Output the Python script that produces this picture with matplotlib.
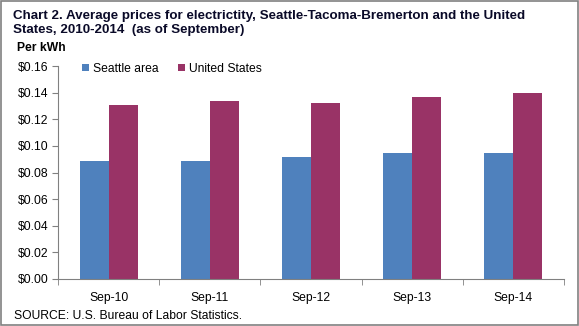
import numpy as np
import matplotlib
matplotlib.use("Agg")
import matplotlib.pyplot as plt
from matplotlib.patches import Rectangle

categories = ["Sep-10", "Sep-11", "Sep-12", "Sep-13", "Sep-14"]
seattle = [0.089, 0.089, 0.092, 0.095, 0.095]
united_states = [0.131, 0.134, 0.132, 0.137, 0.140]
y_ticks = [0.00, 0.02, 0.04, 0.06, 0.08, 0.10, 0.12, 0.14, 0.16]

plt.rcParams["font.family"] = ["Liberation Sans", "DejaVu Sans"]

fig = plt.figure(figsize=(5.79, 3.26), dpi=100)
ax = fig.add_axes([58 / 579, 47 / 326, 506 / 579, 213 / 326])

x = np.arange(len(categories))
w = 0.287
ax.bar(x - w / 2, seattle, width=w, color="#4F81BD", label="Seattle area")
ax.bar(x + w / 2, united_states, width=w, color="#993366", label="United States")

ax.set_xlim(-0.5, len(categories) - 0.5)
ax.set_ylim(0, 0.16)
ax.set_yticks(y_ticks)
ax.set_yticklabels([f"${v:.2f}" for v in y_ticks], fontsize=8.7)
ax.set_xticks(x)
ax.set_xticklabels(categories, fontsize=8.7)
ax.set_xticks(np.arange(-0.5, len(categories)), minor=True)
ax.tick_params(axis="x", which="major", length=0, pad=9)
ax.tick_params(axis="x", which="minor", length=4, color="#808080")
ax.tick_params(axis="y", length=4, color="#808080", pad=3)

for s in ["top", "right"]:
    ax.spines[s].set_visible(False)
for s in ["left", "bottom"]:
    ax.spines[s].set_color("#808080")

ax.legend(loc="center left", bbox_to_anchor=(0.038, 1 - 3 / 213), ncol=2, frameon=False,
          fontsize=8.7, handlelength=0.55, handleheight=0.55, handletextpad=0.35,
          columnspacing=1.6, borderaxespad=0)

fig.text(13 / 579, 1 - 10 / 326,
         "Chart 2. Average prices for electrictity, Seattle-Tacoma-Bremerton and the United\nStates, 2010-2014  (as of September)",
         fontsize=9.6, fontweight="bold", va="top", ha="left", linespacing=1.25,
         color="#0a0a28")
fig.text(17 / 579, 1 - 48 / 326, "Per kWh", fontsize=8.7, fontweight="bold", va="center")
fig.text(14 / 579, 1 - 316 / 326, "SOURCE: U.S. Bureau of Labor Statistics.", fontsize=8.7, va="center")

fig.patches.append(Rectangle((0.001, 0.002), 0.997, 0.995, transform=fig.transFigure,
                             fill=False, edgecolor="#808080", lw=1.2))

fig.savefig("out.png", dpi=100)
